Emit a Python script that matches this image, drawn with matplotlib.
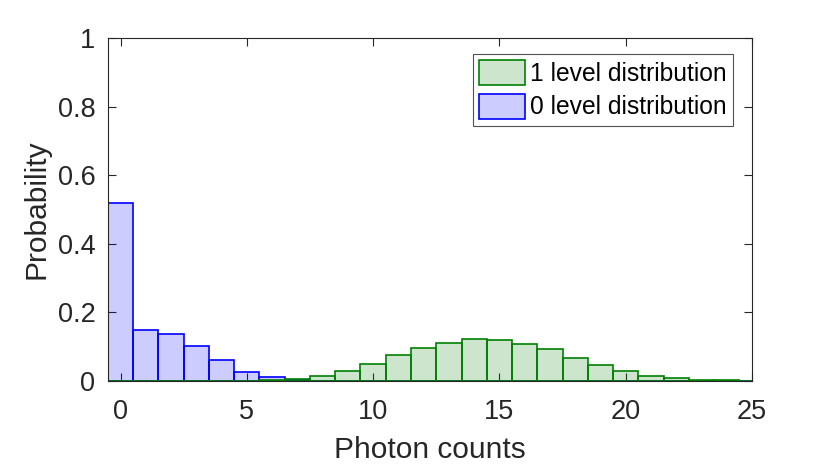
import numpy as np
import matplotlib.pyplot as plt
from matplotlib.patches import Patch

# photon count bins (integers, width 1)
counts = np.arange(0, 26)

# probabilities
p_zero = [0.518, 0.148, 0.136, 0.101, 0.061, 0.025, 0.011, 0.004, 0.001, 0.0,
          0.0, 0.0, 0.0, 0.0, 0.0, 0.0, 0.0, 0.0, 0.0, 0.0,
          0.0, 0.0, 0.0, 0.0, 0.0, 0.0]
p_one = [0.0, 0.0, 0.0, 0.0, 0.0, 0.001, 0.003, 0.007, 0.016, 0.030,
         0.051, 0.075, 0.096, 0.110, 0.122, 0.119, 0.107, 0.093, 0.067, 0.046,
         0.028, 0.014, 0.008, 0.003, 0.002, 0.001]

x_ticks = [0, 5, 10, 15, 20, 25]
y_ticks = [0, 0.2, 0.4, 0.6, 0.8, 1]
y_tick_labels = ["0", "0.2", "0.4", "0.6", "0.8", "1"]

plt.rcParams["font.family"] = ["Liberation Sans", "DejaVu Sans"]
axis_color = "#262626"

fig = plt.figure(figsize=(8.3, 4.69), dpi=100)
ax = fig.add_axes([0.130, 0.1876, 0.776, 0.7314])

blue_face = (0.0, 0.0, 1.0, 0.2)
green_face = (0.0, 0.5, 0.0, 0.2)

ax.bar(counts, p_zero, width=1.0, facecolor=blue_face, edgecolor="#0000ff",
       linewidth=1.2, zorder=2)
ax.bar(counts, p_one, width=1.0, facecolor=green_face, edgecolor="#008000",
       linewidth=1.2, zorder=2)

ax.set_xlim(-0.5, 25)
ax.set_ylim(0, 1)
ax.set_xticks(x_ticks)
ax.set_yticks(y_ticks)
ax.set_yticklabels(y_tick_labels)

ax.tick_params(direction="in", length=6, width=0.8, top=True, right=True,
               labelsize=19.5, colors=axis_color)
ax.tick_params(axis="x", pad=13)
ax.tick_params(axis="y", pad=9)
for spine in ax.spines.values():
    spine.set_color(axis_color)
    spine.set_linewidth(0.8)

ax.set_xlabel("Photon counts", fontsize=21.5, color=axis_color, labelpad=8)
ax.set_ylabel("Probability", fontsize=21.5, color=axis_color, labelpad=5)

handles = [
    Patch(facecolor=green_face, edgecolor="#008000", linewidth=1.2, label="1 level distribution"),
    Patch(facecolor=blue_face, edgecolor="#0000ff", linewidth=1.2, label="0 level distribution"),
]
leg = ax.legend(handles=handles, loc="upper right", bbox_to_anchor=(0.9705, 0.953),
                fontsize=17.7, frameon=True, fancybox=False, handlelength=1.85,
                handleheight=1.2, handletextpad=0.22, borderpad=0.25, labelspacing=0.3,
                borderaxespad=0)
leg.get_frame().set_edgecolor(axis_color)
leg.get_frame().set_linewidth(0.8)

fig.savefig("out.png", dpi=100)
